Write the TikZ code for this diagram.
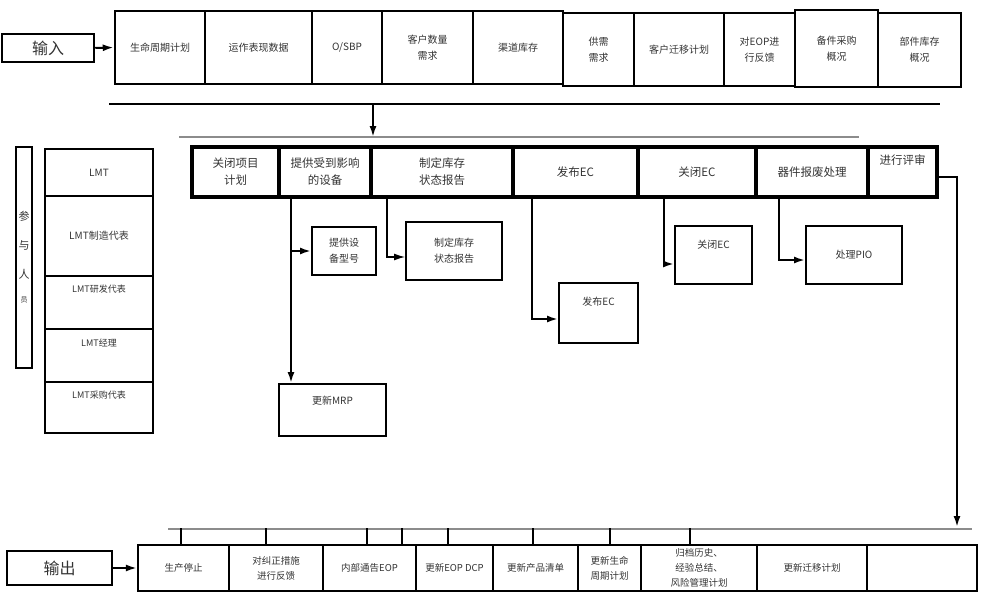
\documentclass[tikz,border=0pt]{standalone}
\usepackage{fontspec}
\newfontfamily\cjk{Noto Sans CJK SC}
\usetikzlibrary{arrows.meta}
\newcommand{\liftup}[2]{\raisebox{#1}[0pt][0pt]{#2}}

\begin{document}
\begin{tikzpicture}[
		x=1pt, y=-1pt,
		tcell/.style = {rectangle,	draw=black,	line width=2.5pt,	inner sep=1pt,	align=center,	text=black!80,	font=\cjk\fontsize{10}{16}\selectfont},
		mcell/.style = {rectangle,	draw=black,	line width=4.5pt,	inner sep=1pt,	align=center,	text=black!80,	minimum height=50,	font=\cjk\fontsize{11.5}{17}\selectfont},
		sbox/.style = {rectangle,	draw=black,	line width=2pt,		inner sep=1pt,	align=center,	text=black!80,	font=\cjk\fontsize{10}{16}\selectfont},
		pbox/.style = {rectangle,	draw=black,	line width=2.5pt,	inner sep=1pt,	minimum width=108,	text=black!80,	font=\cjk\fontsize{10}{12}\selectfont},
		obox/.style = {rectangle,	draw=black,	line width=2.2pt,	inner sep=1pt,	align=center,	text=black!80,	minimum height=46,	font=\cjk\fontsize{9.5}{15}\selectfont},
		iobox/.style = {rectangle,	draw=black,	line width=2.5pt,	text=black!80,	font=\cjk\fontsize{16}{18}\selectfont},
		r/.style = {-{Latex[length=11pt,width=7pt]}, line width=2pt},
		gl/.style = {draw=black!45, line width=2pt}
		]
		\useasboundingbox (0, 0) rectangle (981, 599);
		
		%Nodes
		\node[iobox, minimum width=92, minimum height=28]	(in)	at	(48, 48)	{输入};
		
		\node[tcell, minimum width=90, minimum height=73]	(c1)	at	(160, 47.5)	{生命周期计划};
		\node[tcell, minimum width=107, minimum height=73]	(c2)	at	(258.5, 47.5)	{运作表现数据};
		\node[tcell, minimum width=70, minimum height=73]	(c3)	at	(347, 47.5)	{O/SBP};
		\node[tcell, minimum width=91, minimum height=73]	(c4)	at	(427.5, 47.5)	{客户数量\\需求};
		\node[tcell, minimum width=90, minimum height=73]	(c5)	at	(518, 47.5)	{渠道库存};
		\node[tcell, minimum width=71, minimum height=73]	(c6)	at	(598.5, 49.5)	{供需\\需求};
		\node[tcell, minimum width=90, minimum height=73]	(c7)	at	(679, 49.5)	{客户迁移计划};
		\node[tcell, minimum width=71, minimum height=73]	(c8)	at	(759.5, 49.5)	{对EOP进\\行反馈};
		\node[tcell, minimum width=83, minimum height=77]	(c9)	at	(836.5, 48.5)	{备件采购\\概况};
		\node[tcell, minimum width=83, minimum height=74]	(c10)	at	(919.5, 50)	{部件库存\\概况};
		
		\node[pbox, minimum width=16, minimum height=221, inner sep=0pt, align=center, font=\cjk\fontsize{11}{12}\selectfont]	(who)	at	(24, 257.5)	{参\\[17pt]与\\[17pt]人\\[12pt]{\fontsize{7}{8}\selectfont 员}};
		\node[pbox, minimum height=47]	(p1)	at	(99, 172.5)	{LMT};
		\node[pbox, minimum height=80]	(p2)	at	(99, 236)	{LMT制造代表};
		\node[pbox, minimum height=53, font=\cjk\fontsize{9}{11}\selectfont]	(p3)	at	(99, 302.5)	{\liftup{10pt}{LMT研发代表}};
		\node[pbox, minimum height=53, font=\cjk\fontsize{9}{11}\selectfont]	(p4)	at	(99, 355.5)	{\liftup{9pt}{LMT经理}};
		\node[pbox, minimum height=51, font=\cjk\fontsize{9}{11}\selectfont]	(p5)	at	(99, 407.5)	{\liftup{9pt}{LMT采购代表}};
		
		\node[mcell, minimum width=87]	(m1)	at	(235.5, 172)	{关闭项目\\计划};
		\node[mcell, minimum width=92]	(m2)	at	(325, 172)	{提供受到影响\\的设备};
		\node[mcell, minimum width=142]	(m3)	at	(442, 172)	{制定库存\\状态报告};
		\node[mcell, minimum width=125]	(m4)	at	(575.5, 172)	{发布EC};
		\node[mcell, minimum width=118]	(m5)	at	(697, 172)	{关闭EC};
		\node[mcell, minimum width=112]	(m6)	at	(812, 172)	{器件报废处理};
		\node[mcell, minimum width=69]	(m7)	at	(902.5, 172)	{\liftup{8pt}{进行评审}};
		
		\node[sbox, minimum width=64, minimum height=48]	(s1)	at	(344, 251)	{提供设\\备型号};
		\node[sbox, minimum width=96, minimum height=58]	(s2)	at	(454, 251)	{制定库存\\状态报告};
		\node[sbox, minimum width=107, minimum height=52]	(s3)	at	(332.5, 410)	{\liftup{6pt}{更新MRP}};
		\node[sbox, minimum width=79, minimum height=60]	(s4)	at	(598.5, 313)	{\liftup{8pt}{发布EC}};
		\node[sbox, minimum width=77, minimum height=58]	(s5)	at	(713.5, 255)	{\liftup{7pt}{关闭EC}};
		\node[sbox, minimum width=96, minimum height=58]	(s6)	at	(854, 255)	{处理PIO};
		
		\node[iobox, minimum width=105, minimum height=34]	(out)	at	(59.5, 568)	{输出};
		
		\node[obox, minimum width=91]	(o1)	at	(183.5, 568)	{生产停止};
		\node[obox, minimum width=94]	(o2)	at	(276, 568)	{对纠正措施\\进行反馈};
		\node[obox, minimum width=93]	(o3)	at	(369.5, 568)	{内部通告EOP};
		\node[obox, minimum width=77]	(o4)	at	(454.5, 568)	{更新EOP DCP};
		\node[obox, minimum width=85]	(o5)	at	(535.5, 568)	{更新产品清单};
		\node[obox, minimum width=63]	(o6)	at	(609.5, 568)	{更新生命\\周期计划};
		\node[obox, minimum width=116]	(o7)	at	(699, 568)	{归档历史、\\经验总结、\\风险管理计划};
		\node[obox, minimum width=110]	(o8)	at	(812, 568)	{更新迁移计划};
		\node[obox, minimum width=110]	(o9)	at	(922, 568)	{};
		
		% bars and drops
		\coordinate	(tl)	at	(109, 104);
		\coordinate	(tr)	at	(940, 104);
		\coordinate	(ta)	at	(373, 104);
		\coordinate	(gl)	at	(179, 137);
		\coordinate	(gr)	at	(859, 137);
		\coordinate	(bl)	at	(168, 529);
		\coordinate	(br)	at	(972, 529);
		\coordinate	(dn)	at	(957, 527);
		\coordinate	(k2)	at	(291, 197);
		\coordinate	(k3)	at	(387, 199);
		\coordinate	(k4)	at	(532, 197);
		\coordinate	(k5)	at	(664, 197);
		\coordinate	(k6)	at	(779, 197);
		
		%Lines
		\draw[r]	(in.east)	to	(c1.west);
		\draw[line width=2pt]	(tl)	to	(tr);
		\draw[gl]	(gl)	to	(gr);
		\draw[r]	(ta)	to	(ta |- gl);
		
		\draw[r]	(k2)	to	(k2 |- s3.north);
		\draw[r]	(k2 |- s1.west)	to	(s1.west);
		\draw[r, line width=1.2pt]	(k3)	|-	([yshift=-6]s2.west);
		\draw[r]	(k4)	|-	([yshift=-6]s4.west);
		\draw[r]	(k5)	|-	([yshift=-9]s5.west);
		\draw[r]	(k6)	|-	([yshift=-5]s6.west);
		\draw[r]	([yshift=-5]m7.east)	-|	(dn);
		
		\draw[gl]	(bl)	to	(br);
		\draw[line width=1.5pt]	([xshift=-2.5]o1.north)	--	++(0, -16);
		\draw[line width=1.5pt]	([xshift=-10]o2.north)	--	++(0, -16);
		\draw[line width=1.5pt]	([xshift=-2.5]o3.north)	--	++(0, -16);
		\draw[line width=1.5pt]	([xshift=32.5]o3.north)	--	++(0, -16);
		\draw[line width=1.5pt]	([xshift=-6.5]o4.north)	--	++(0, -16);
		\draw[line width=1.5pt]	([xshift=-2.5]o5.north)	--	++(0, -16);
		\draw[line width=1.5pt]	([xshift=0.5]o6.north)	--	++(0, -16);
		\draw[line width=1.5pt]	([xshift=-9]o7.north)	--	++(0, -16);
		
		\draw[r]	(out.east)	to	(o1.west);
	\end{tikzpicture}
\end{document}
